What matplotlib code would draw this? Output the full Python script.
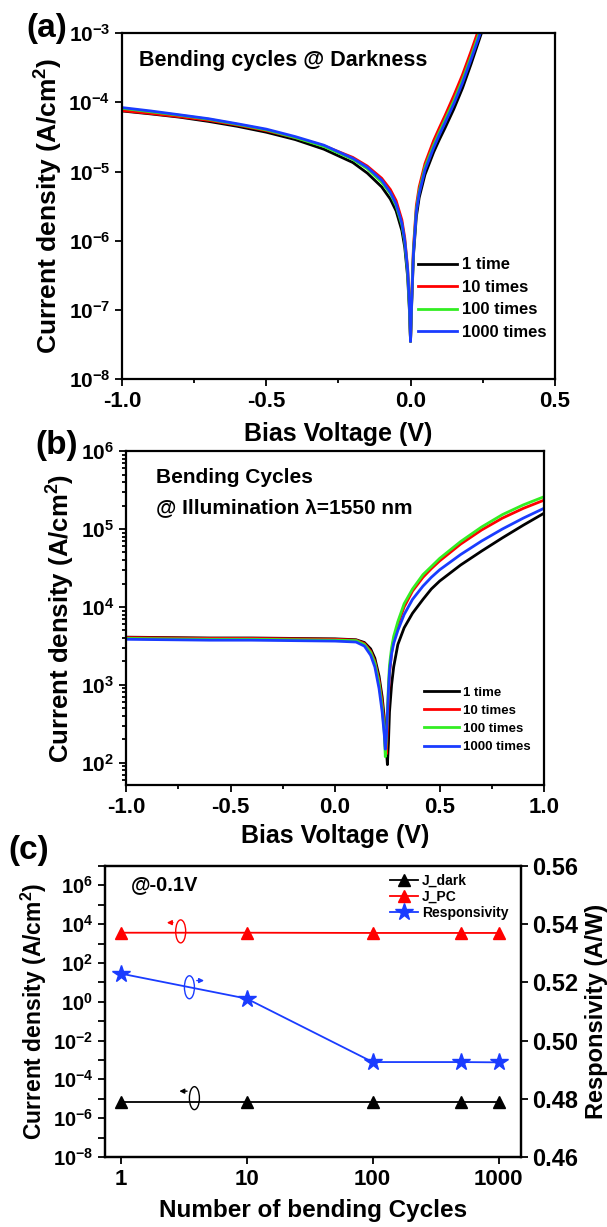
import numpy as np
import matplotlib
matplotlib.use("Agg")
import matplotlib.pyplot as plt
from matplotlib.patches import Ellipse
from matplotlib.ticker import LogLocator, NullFormatter, MultipleLocator, FixedLocator

plt.rcParams['font.family'] = ['Liberation Sans', 'DejaVu Sans']
plt.rcParams['font.weight'] = 'bold'
plt.rcParams['axes.labelweight'] = 'bold'
plt.rcParams['mathtext.fontset'] = 'custom'
plt.rcParams['mathtext.rm'] = 'Liberation Sans:bold'
plt.rcParams['mathtext.bf'] = 'Liberation Sans:bold'
plt.rcParams['mathtext.it'] = 'Liberation Sans:bold:italic'
plt.rcParams['mathtext.default'] = 'rm'
plt.rcParams['axes.unicode_minus'] = False
plt.rcParams['axes.linewidth'] = 1.6

# ---- data, panel (a): dark J-V after bending
V_a = [-1.0, -0.9, -0.8, -0.7, -0.6, -0.5, -0.4, -0.3, -0.2, -0.15, -0.1, -0.07, -0.05,
       -0.03, -0.02, -0.01, -0.004, 0.0, 0.004, 0.01, 0.02, 0.03, 0.05, 0.08, 0.1, 0.12,
       0.15, 0.18, 0.21, 0.24, 0.27]
Ja_1 = [7.5e-5, 6.8e-5, 6.1e-5, 5.3e-5, 4.5e-5, 3.7e-5, 2.9e-5, 2.1e-5, 1.35e-5, 9.5e-6,
        6.0e-6, 4.0e-6, 2.7e-6, 1.4e-6, 8e-7, 3e-7, 1e-7, 3.5e-8, 1.2e-7, 6e-7, 2.2e-6,
        4.2e-6, 9e-6, 1.9e-5, 2.9e-5, 4.3e-5, 8e-5, 1.6e-4, 3.6e-4, 8.5e-4, 2e-3]
Ja_10 = [7.6e-5, 6.9e-5, 6.2e-5, 5.5e-5, 4.7e-5, 3.9e-5, 3.1e-5, 2.35e-5, 1.6e-5, 1.2e-5,
         8.0e-6, 5.5e-6, 3.8e-6, 2.0e-6, 1.1e-6, 4e-7, 1.3e-7, 3.5e-8, 1.5e-7, 8e-7, 3.2e-6,
         6e-6, 1.3e-5, 2.8e-5, 4.3e-5, 6.5e-5, 1.25e-4, 2.5e-4, 5.5e-4, 1.25e-3, 2.8e-3]
Ja_100 = [8.2e-5, 7.3e-5, 6.5e-5, 5.7e-5, 4.8e-5, 4.0e-5, 3.1e-5, 2.3e-5, 1.5e-5, 1.1e-5,
          7.0e-6, 4.8e-6, 3.2e-6, 1.7e-6, 9.5e-7, 3.5e-7, 1.1e-7, 3.5e-8, 1.4e-7, 7e-7, 2.8e-6,
          5.2e-6, 1.15e-5, 2.4e-5, 3.7e-5, 5.6e-5, 1.05e-4, 2.1e-4, 4.6e-4, 1.05e-3, 2.4e-3]
Ja_1000 = [8.4e-5, 7.5e-5, 6.6e-5, 5.8e-5, 4.9e-5, 4.1e-5, 3.2e-5, 2.4e-5, 1.55e-5, 1.15e-5,
           7.5e-6, 5.0e-6, 3.4e-6, 1.8e-6, 1.0e-6, 3.8e-7, 1.2e-7, 3.5e-8, 1.3e-7, 6.5e-7, 2.6e-6,
           4.8e-6, 1.05e-5, 2.2e-5, 3.4e-5, 5.1e-5, 9.5e-5, 1.9e-4, 4.2e-4, 9.5e-4, 2.2e-3]

# ---- data, panel (b): illuminated J-V (1550 nm)
V_b = [-1.0, -0.8, -0.6, -0.4, -0.2, 0.0, 0.1, 0.14, 0.17, 0.19, 0.21, 0.225, 0.235, 0.24,
       0.245, 0.25, 0.255, 0.26, 0.27, 0.28, 0.3, 0.33, 0.37, 0.42, 0.46, 0.5, 0.6, 0.7, 0.8,
       0.9, 1.0]
Jb_1 = [4.1e3, 4.05e3, 4.0e3, 4.0e3, 3.95e3, 3.9e3, 3.8e3, 3.5e3, 2.9e3, 2.2e3, 1.3e3, 700,
        380, 250, 150, 95, 180, 450, 1.0e3, 1.7e3, 3.3e3, 5.4e3, 8.3e3, 1.25e4, 1.7e4, 2.15e4,
        3.45e4, 5.2e4, 7.7e4, 1.12e5, 1.6e5]
Jb_10 = [4.05e3, 4.0e3, 3.95e3, 3.95e3, 3.9e3, 3.85e3, 3.75e3, 3.4e3, 2.7e3, 2.0e3, 1.15e3, 600,
         300, 160, 130, 280, 700, 1.4e3, 2.6e3, 3.8e3, 6.0e3, 1.0e4, 1.6e4, 2.4e4, 3.1e4, 3.9e4,
         6.4e4, 9.7e4, 1.38e5, 1.84e5, 2.35e5]
Jb_100 = [3.95e3, 3.9e3, 3.85e3, 3.85e3, 3.8e3, 3.75e3, 3.7e3, 3.3e3, 2.6e3, 1.9e3, 1.05e3, 520,
          250, 120, 200, 450, 1.0e3, 1.8e3, 3.0e3, 4.2e3, 6.5e3, 1.1e4, 1.7e4, 2.6e4, 3.3e4,
          4.2e4, 6.9e4, 1.06e5, 1.53e5, 2.04e5, 2.6e5]
Jb_1000 = [3.85e3, 3.8e3, 3.75e3, 3.75e3, 3.7e3, 3.65e3, 3.55e3, 3.15e3, 2.4e3, 1.7e3, 900, 450,
           230, 150, 220, 420, 850, 1.5e3, 2.5e3, 3.4e3, 5.0e3, 8.0e3, 1.25e4, 1.85e4, 2.4e4,
           3.0e4, 4.7e4, 7.0e4, 1.0e5, 1.38e5, 1.85e5]

# ---- data, panel (c): @-0.1V vs number of bending cycles
cycles = [1, 10, 100, 500, 1000]
J_dark = [7e-6, 7e-6, 7e-6, 7e-6, 7e-6]
J_PC = [3.6e3, 3.6e3, 3.5e3, 3.5e3, 3.5e3]
resp = [0.523, 0.5144, 0.4926, 0.4926, 0.4925]

labels = ['1 time', '10 times', '100 times', '1000 times']
colors = ['black', '#ff0000', '#33ee22', '#1a3cff']

fig = plt.figure(figsize=(6.07, 12.27), dpi=100)

def style(ax):
    ax.tick_params(which='both', direction='out', top=False, right=False, width=1.3)
    ax.tick_params(axis='x', labelsize=16)
    ax.tick_params(axis='y', labelsize=15)
    ax.tick_params(which='major', length=5)
    ax.tick_params(which='minor', length=3)

# (a)
ax = fig.add_axes([0.201, 0.691, 0.713, 0.282])
for J, c, l in zip([Ja_1, Ja_10, Ja_100, Ja_1000], colors, labels):
    ax.plot(V_a, J, color=c, lw=2, label=l)
ax.set_yscale('log')
ax.set_xlim(-1.0, 0.5)
ax.set_ylim(1e-8, 1e-3)
ax.xaxis.set_major_locator(MultipleLocator(0.5))
ax.xaxis.set_minor_locator(MultipleLocator(0.25))
ax.yaxis.set_major_locator(LogLocator(base=10, numticks=10))
ax.yaxis.set_minor_locator(FixedLocator([]))
style(ax)
ax.set_xlabel('Bias Voltage (V)', fontsize=18)
ax.set_ylabel('Current density (A/cm$^2$)', fontsize=19)
ax.xaxis.set_label_coords(0.5, -0.125)
ax.yaxis.set_label_coords(-0.132, 0.5)
ax.text(0.04, 0.92, 'Bending cycles @ Darkness', transform=ax.transAxes, fontsize=15.5, va='center')
ax.legend(loc='lower right', bbox_to_anchor=(1.015, 0.07), frameon=False, fontsize=12,
          handlelength=2.3, handletextpad=0.3, labelspacing=0.45)

# (b)
ax = fig.add_axes([0.2076, 0.3602, 0.689, 0.2722])
for J, c, l in zip([Jb_1, Jb_10, Jb_100, Jb_1000], colors, labels):
    ax.plot(V_b, J, color=c, lw=2, label=l)
ax.set_yscale('log')
ax.set_xlim(-1.0, 1.0)
ax.set_ylim(52, 1e6)
ax.xaxis.set_major_locator(MultipleLocator(0.5))
ax.xaxis.set_minor_locator(MultipleLocator(0.25))
ax.yaxis.set_minor_locator(LogLocator(base=10, subs=np.arange(2, 10), numticks=20))
ax.yaxis.set_minor_formatter(NullFormatter())
style(ax)
ax.set_xlabel('Bias Voltage (V)', fontsize=18)
ax.set_ylabel('Current density (A/cm$^2$)', fontsize=18.5)
ax.xaxis.set_label_coords(0.5, -0.117)
ax.yaxis.set_label_coords(-0.117, 0.5)
ax.text(0.072, 0.922, 'Bending Cycles', transform=ax.transAxes, fontsize=15, va='center')
ax.text(0.072, 0.832, '@ Illumination λ=1550 nm', transform=ax.transAxes, fontsize=15, va='center')
ax.legend(loc='lower right', bbox_to_anchor=(0.995, 0.06), frameon=False, fontsize=9.5,
          handlelength=2.6, handletextpad=0.3, labelspacing=0.45)

# (c)
ax = fig.add_axes([0.173, 0.0571, 0.685, 0.2372])
ax.plot(cycles, J_dark, color='black', lw=1.3, marker='^', ms=9, label='J_dark')
ax.plot(cycles, J_PC, color='#ff0000', lw=1.3, marker='^', ms=9, label='J_PC')
ax.set_xscale('log')
ax.set_yscale('log')
ax.set_xlim(0.75, 1500)
ax.set_ylim(1e-8, 1e7)
ax.xaxis.set_major_locator(FixedLocator(cycles[:3] + cycles[4:]))
ax.set_xticklabels(['1', '10', '100', '1000'])
ax.xaxis.set_minor_locator(FixedLocator([]))
ax.yaxis.set_major_locator(FixedLocator([1e-8, 1e-6, 1e-4, 1e-2, 1e0, 1e2, 1e4, 1e6]))
ax.yaxis.set_minor_locator(FixedLocator([1e-7, 1e-5, 1e-3, 1e-1, 1e1, 1e3, 1e5, 1e7]))
ax.yaxis.set_minor_formatter(NullFormatter())
style(ax)
ax.tick_params(axis='y', labelsize=14.5)
ax.tick_params(which='minor', length=5)
ax.set_xlabel('Number of bending Cycles', fontsize=17.5)
ax.set_ylabel('Current density (A/cm$^2$)', fontsize=16.5)
ax.xaxis.set_label_coords(0.5, -0.145)
ax.yaxis.set_label_coords(-0.135, 0.5)
ax.text(0.0625, 0.935, '@-0.1V', transform=ax.transAxes, fontsize=14.5, va='center')

ax2 = ax.twinx()
ax2.plot(cycles, resp, color='#1a3cff', lw=1.3, marker='*', ms=13, label='Responsivity')
ax2.set_ylim(0.46, 0.56)
ax2.yaxis.set_major_locator(MultipleLocator(0.02))
ax2.tick_params(which='both', direction='out', labelsize=17, width=1.3, length=5)
ax2.set_ylabel('Responsivity (A/W)', fontsize=17)
ax2.yaxis.set_label_coords(1.155, 0.5)

h1, l1 = ax.get_legend_handles_labels()
h2, l2 = ax2.get_legend_handles_labels()
ax2.legend(h1 + h2, l1 + l2, loc='upper right', bbox_to_anchor=(1.0, 1.015), frameon=False,
           fontsize=10, handlelength=2.0, handletextpad=0.3, labelspacing=0.15)

# ellipse + arrow markers telling which axis each curve uses
for (xe, ye, ec, x0, x1, ya) in [(0.182, 0.775, '#ff0000', 0.170, 0.142, 0.805),
                                  (0.203, 0.583, '#1a3cff', 0.214, 0.245, 0.606),
                                  (0.215, 0.202, 'black', 0.204, 0.172, 0.226)]:
    ax.add_patch(Ellipse((xe, ye), 0.024, 0.079, transform=ax.transAxes, fill=False, ec=ec, lw=1))
    ax.annotate('', xy=(x1, ya), xytext=(x0, ya), xycoords='axes fraction',
                arrowprops=dict(arrowstyle='-|>', color=ec, lw=1, mutation_scale=7))

fig.text(0.044, 0.977, '(a)', fontsize=24, va='center')
fig.text(0.058, 0.637, '(b)', fontsize=24, va='center')
fig.text(0.013, 0.307, '(c)', fontsize=24, va='center')

fig.savefig('out.png', dpi=100)
